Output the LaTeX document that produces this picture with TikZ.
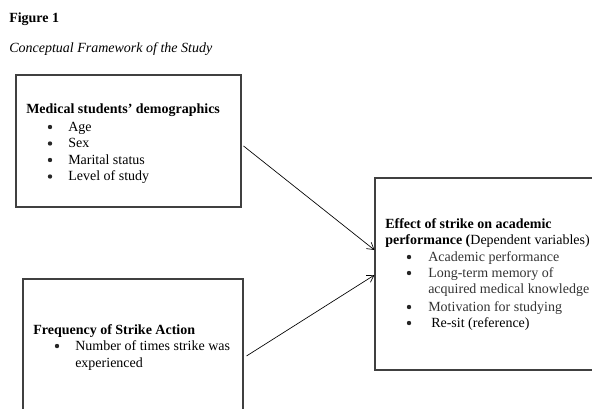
\documentclass[tikz,border=0pt]{standalone}
\usepackage{fontspec}
\setmainfont{Liberation Serif}
\usetikzlibrary{arrows.meta}
\begin{document}
\begin{tikzpicture}[x=0.75pt,y=-0.75pt,font=\fontsize{10.5}{12.5}\selectfont,
  frame/.style={draw=black!75,line width=0.8pt,inner sep=0pt},
  txt/.style={anchor=base west,inner sep=0pt},
  dot/.style={circle,fill=black!85,inner sep=0pt,minimum size=3.3pt},
  link/.style={line width=0.5pt,-{Straight Barb[length=5pt,width=6pt]}}]
\useasboundingbox (0,0) rectangle (592,408);
% title
\node[txt] (fig) at (9,22) {\textbf{Figure 1}};
\node[txt] (cap) at (9,52) {\textit{Conceptual Framework of the Study}};
% boxes
\node[frame,minimum width=168.75pt,minimum height=99pt] (demo) at (128.5,141) {};
\node[frame,minimum width=165pt,minimum height=101.25pt] (strike) at (133,346.5) {};
\node[frame,minimum width=171.75pt,minimum height=144pt] (effect) at (489.5,274) {};
% demographics
\node[txt] (demohead) at (26,113) {\textbf{Medical students’ demographics}};
\foreach \lbl [count=\i] in {Age,Sex,Marital status,Level of study}{
  \node[dot] (demodot\i) at (50,110.5+16.5*\i) {};
  \node[txt] (demoitem\i) at (68,114.5+16.5*\i) {\lbl};
}
% frequency
\node[txt] (strikehead) at (33,334) {\textbf{Frequency of Strike Action}};
\node[dot] (strikedot) at (57,346) {};
\node[txt] (strikeitem1) at (75,350) {Number of times strike was};
\node[txt] (strikeitem2) at (75,367) {experienced};
% effect
\node[txt] (effecthead1) at (385,228) {\textbf{Effect of strike on academic}};
\node[txt] (effecthead2) at (385,244) {\textbf{performance (}Dependent variables)};
\foreach \y in {261,277,311,327}
  \node[dot] (effectdot\y) at (409,\y-4) {};
\begin{scope}[every node/.append style={text=black!80}]
\node[txt] (effectitem1) at (428,261) {Academic performance};
\node[txt] (effectitem2) at (428,277) {Long-term memory of};
\node[txt] (effectitem3) at (428,293) {acquired medical knowledge};
\node[txt] (effectitem4) at (428,311) {Motivation for studying};
\end{scope}
\node[txt] (effectitem5) at (431,327) {Re-sit (reference)};
% arrows
\draw[link] ([xshift=1.5pt,yshift=-3.75pt]demo.east) -- ([yshift=18pt]effect.west);
\draw[link] ([xshift=2.25pt,yshift=-7.1pt]strike.east) -- ([yshift=-0.75pt]effect.west);
\end{tikzpicture}
\end{document}
